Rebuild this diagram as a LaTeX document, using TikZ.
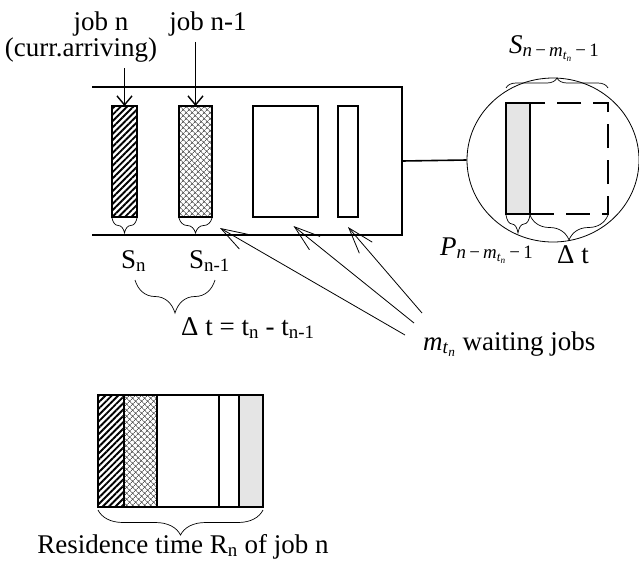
\documentclass[tikz,border=0pt]{standalone}
\usepackage{fontspec}
\setmainfont{Liberation Serif}
\usetikzlibrary{arrows.meta,patterns.meta,decorations.pathreplacing,shapes.geometric,positioning}

\newcommand{\mtn}{\textit{m}\textsubscript{\textit{t}\textsubscript{\textit{n}}}}
\newcommand{\jidx}{\textit{n}\,−\,\mtn\,−\,1}

\tikzset{
	box/.style={draw,line width=1.6pt,inner sep=0pt,outer sep=0pt,minimum height=111pt},
	hatched/.style={pattern={Lines[angle=45,distance=4.5pt,line width=1.9pt]}},
	crossed/.style={pattern={Hatch[angle=45,distance=4pt,line width=0.7pt]},pattern color=black!65},
	curly/.style={decorate,decoration={brace,amplitude=#1},line width=0.7pt},
	jobarrow/.style={-{Straight Barb[length=9pt,width=15pt]},line width=1.4pt},
	waitarrow/.style={-{Straight Barb[length=26pt,width=17pt]},line width=0.8pt},
	lbl/.style={inner sep=1pt,anchor=base west}
}

\begin{document}
\begin{tikzpicture}[x=1pt,y=-1pt,font=\fontsize{27}{30}\selectfont]
\useasboundingbox (0,0) rectangle (639,571);

% queue
\coordinate (QA) at (92,87);
\coordinate (QB) at (402,87);
\coordinate (QC) at (402,235);
\coordinate (QD) at (92,235);
\coordinate (QM) at (402,161);

\draw[line width=1.6pt] (QA)--(QB)--(QC)--(QD);

\node[box,hatched,minimum width=25pt] (jn) at (124.5,161.5) {};
\node[box,crossed,minimum width=33pt] (jm) at (195.5,161.5) {};
\node[box,minimum width=65pt] (w1) at (285.5,161.5) {};
\node[box,minimum width=20pt] (w2) at (348,161.5) {};

\node[lbl,anchor=base] (ljn) at (101,30) {job n};
\node[lbl,anchor=base] (lcurr) at (81,56) {(curr.arriving)};
\node[lbl,anchor=base] (ljm) at (208,30) {job n-1};

\draw[jobarrow] ([yshift=-5pt]jn.north |- lcurr.south) -- (jn.north);
\draw[jobarrow] ([yshift=-5pt]jm.north |- ljm.south) -- (jm.north);

\draw[curly=15pt] ([yshift=-1pt]jn.south east) -- ([yshift=-1pt]jn.south west);
\draw[curly=15pt] ([yshift=-1pt]jm.south east) -- ([yshift=-1pt]jm.south west);

\node[lbl] (lsn) at (120,268) {S\textsubscript{n}};
\node[lbl] (lsm) at (188,268) {S\textsubscript{n-1}};

\coordinate (DA) at (135,280);
\coordinate (DB) at (215,280);
\draw[curly=33pt] (DB) -- (DA);
\node[lbl] (ldt) at (180,335) {Δ t = t\textsubscript{n} - t\textsubscript{n-1}};

% waiting jobs
\node[lbl] (lwait) at (422,350) {\mtn\ waiting jobs};
\coordinate (T1) at (405,335);
\coordinate (T2) at (414,323);
\coordinate (T3) at (422,313);
\draw[waitarrow] (T1) -- ([xshift=8pt,yshift=-11pt]jm.south east);
\draw[waitarrow] (T2) -- ([xshift=8pt,yshift=-9pt]w1.south);
\draw[waitarrow] (T3) -- ([yshift=-10pt]w2.south);

% zoomed server
\node[draw,ellipse,minimum width=172pt,minimum height=164pt,inner sep=0pt,line width=0.8pt] (zoomc) at (553,160) {};
\draw[line width=1.6pt] (QM) -- (zoomc.west);

\node[box,fill=gray!20,minimum width=24pt] (pn) at (518,158.5) {};
\node[box,dash pattern=on 24pt off 12pt,minimum width=78pt,right=0pt of pn] (dt) {};

\draw[curly=10pt] ([yshift=15pt]pn.north west) -- ([yshift=15pt]dt.north east);
\draw[curly=18pt] ([yshift=-1pt]pn.south east) -- ([yshift=-1pt]pn.south west);
\draw[curly=25pt] ([yshift=-1pt]dt.south east) -- ([yshift=-1pt]dt.south west);

\node[lbl] (lsj) at (508,53) {\textit{S}\textsubscript{\jidx}};
\node[lbl] (lpj) at (439,255) {\textit{P}\textsubscript{\jidx}};
\node[lbl] (ldz) at (556,263) {Δ t};

% residence time
\node[box,hatched,minimum width=26pt,minimum height=112pt] (rjn) at (111,451) {};
\node[box,crossed,minimum width=33pt,minimum height=112pt,right=0pt of rjn] (rjm) {};
\node[box,minimum width=62pt,minimum height=112pt,right=0pt of rjm] (rw1) {};
\node[box,minimum width=20pt,minimum height=112pt,right=0pt of rw1] (rw2) {};
\node[box,fill=gray!20,minimum width=24pt,minimum height=112pt,right=0pt of rw2] (rpn) {};

\draw[curly=25pt] ([yshift=-3pt]rpn.south east) -- ([yshift=-3pt]rjn.south west);
\node[lbl,anchor=base] (lres) at (183,553) {Residence time R\textsubscript{n} of job n};

\end{tikzpicture}
\end{document}
